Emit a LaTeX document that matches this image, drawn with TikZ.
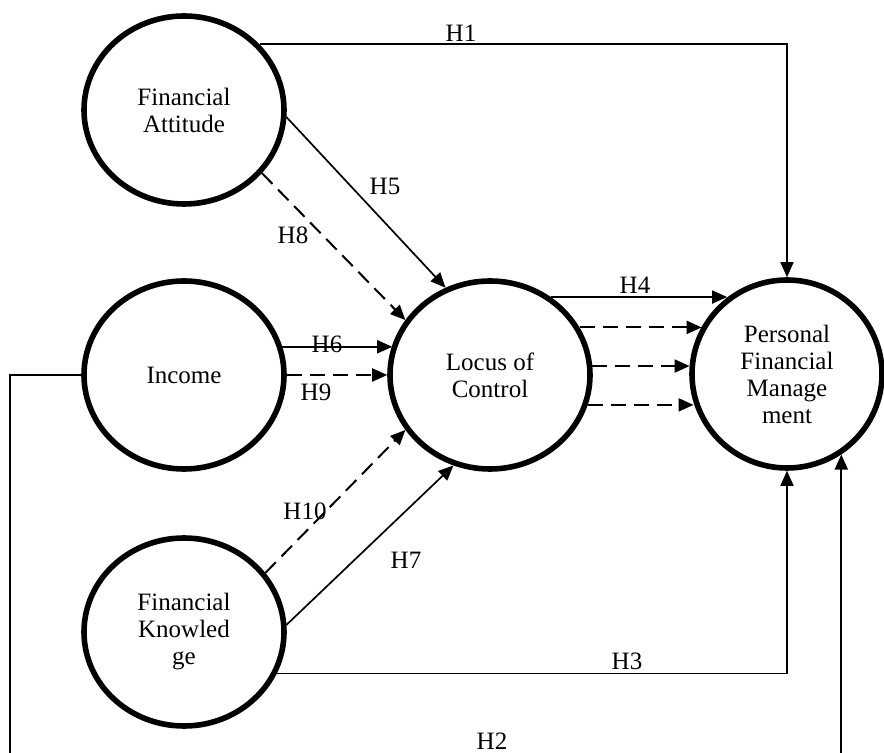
\documentclass[tikz,border=0pt]{standalone}
\usepackage{fontspec}
\setmainfont{Liberation Serif}
\usetikzlibrary{shapes.geometric,arrows.meta}

\begin{document}
\begin{tikzpicture}[
    x=0.5pt, y=-0.5pt,
    >={Triangle[length=7.5pt,width=6.5pt]},
    font=\fontsize{12.5}{13.5}\selectfont,
    construct/.style={
        draw=black,
        ellipse,
        line width=2.8pt,
        minimum width=100pt,
        minimum height=94pt,
        inner sep=0pt,
        align=center
    },
    arr/.style={->, line width=0.85pt},
    darr/.style={->, line width=1pt, dash pattern=on 7.5pt off 4pt},
    hyp/.style={inner sep=1pt}
]
\useasboundingbox (0,0) rectangle (884,753);

\node[construct] (fa) at (184,110) {Financial\\Attitude};
\node[construct] (inc) at (184,375) {Income};
\node[construct] (fk) at (184,632) {Financial\\Knowled\\ge};
\node[construct] (loc) at (490,375) {Locus of\\Control};
\node[construct, minimum width=95pt] (pfm) at (787,374)
    {Personal\\Financial\\Manage\\ment};

\draw[arr] (fa.41) -| (pfm.north);
\draw[arr] (fa.-4) -- (loc.117);
\draw[darr] (fa.-39) -- (loc.147);
\draw[arr] (inc.16) -- (loc.163 |- inc.16);
\draw[darr] (inc.east) -- (loc.west);
\draw[arr] (loc.52) -- (pfm.128 |- loc.52);
\draw[darr] (loc.28) -- (pfm.151 |- loc.28);
\draw[darr] (loc.5) -- (pfm.175 |- loc.5);
\draw[darr] (loc.-17) -- (pfm.-163 |- loc.-17);
\draw[darr] (fk.36) -- (loc.213);
\draw[arr] (fk.4) -- (loc.248);
\draw[arr] (fk.-24) -| (pfm.south);
\coordinate (h2corner) at (10,770);
\draw[arr] (inc.west) -| (h2corner) -| (pfm.-56);

\node[hyp] (h1) at (461,33) {H1};
\node[hyp] (h5) at (385,186) {H5};
\node[hyp] (h8) at (293,235) {H8};
\node[hyp] (h6) at (327,344) {H6};
\node[hyp] (h9) at (316,392) {H9};
\node[hyp] (h4) at (635,285) {H4};
\node[hyp] (h10) at (305,511) {H10};
\node[hyp] (h7) at (406,560) {H7};
\node[hyp] (h3) at (627,661) {H3};
\node[hyp] (h2) at (492,741) {H2};

\end{tikzpicture}
\end{document}
